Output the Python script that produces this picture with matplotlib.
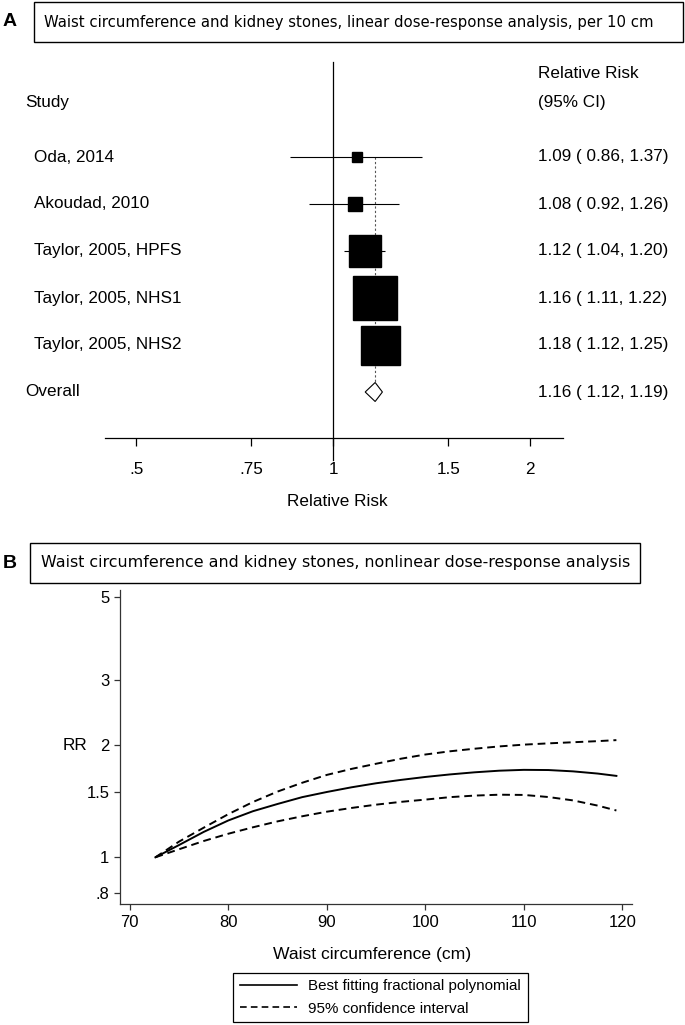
import numpy as np
import matplotlib
matplotlib.use('Agg')
import matplotlib.pyplot as plt
from matplotlib.patches import Rectangle, Polygon
from matplotlib.lines import Line2D
import matplotlib.transforms as mtransforms

plt.rcParams['font.family'] = ['Liberation Sans', 'DejaVu Sans']

# panel A data: linear dose-response per 10 cm
studies = ['Oda, 2014', 'Akoudad, 2010', 'Taylor, 2005, HPFS',
           'Taylor, 2005, NHS1', 'Taylor, 2005, NHS2']
rr = [1.09, 1.08, 1.12, 1.16, 1.18]
lo = [0.86, 0.92, 1.04, 1.11, 1.12]
hi = [1.37, 1.26, 1.20, 1.22, 1.25]
box_px = [10.5, 14, 32, 44, 39]   # square sizes (weights) in pixels
overall = (1.16, 1.12, 1.19)

# panel B data: nonlinear dose-response curve
waist = [72.6, 75, 77.5, 80, 82.5, 85, 87.5, 90, 92.5, 95, 97.5, 100,
         102.5, 105, 107.5, 110, 112.5, 115, 117.5, 119.4]
fit = [1.000, 1.079, 1.170, 1.256, 1.330, 1.391, 1.451, 1.498, 1.542, 1.581,
       1.614, 1.644, 1.670, 1.692, 1.709, 1.718, 1.716, 1.702, 1.679, 1.655]
ci_up = [1.000, 1.102, 1.201, 1.306, 1.408, 1.502, 1.586, 1.665, 1.728, 1.784,
         1.840, 1.889, 1.927, 1.958, 1.986, 2.008, 2.024, 2.038, 2.052, 2.065]
ci_lo = [1.000, 1.051, 1.106, 1.157, 1.204, 1.249, 1.289, 1.326, 1.357, 1.385,
         1.409, 1.429, 1.451, 1.465, 1.473, 1.471, 1.452, 1.422, 1.377, 1.336]

W, H = 685, 1025
fig = plt.figure(figsize=(W / 100, H / 100), dpi=100)


def fx(p):
    return p / W


def fy(p):
    return 1 - p / H


def box(x0, y0, x1, y1):
    fig.patches.append(Rectangle((fx(x0), fy(y1)), fx(x1) - fx(x0), fy(y0) - fy(y1),
                                 transform=fig.transFigure, fill=False,
                                 edgecolor='black', lw=1.0))


# ---------------- panel A ----------------
fig.text(fx(3), fy(21), 'A', fontsize=14, fontweight='bold', va='center')
box(34, 2, 683, 42)
fig.text(fx(44), fy(22), 'Waist circumference and kidney stones, linear dose-response analysis, per 10 cm',
         fontsize=10.75, family='DejaVu Sans', va='center')

axa = fig.add_axes([fx(105), fy(438), fx(563) - fx(105), fy(50) - fy(438)])
axa.set_xscale('log')
axa.set_xlim(np.exp((105 - 333) / 284), np.exp((563 - 333) / 284))
row_px = 47.0
axa.set_ylim((438 - 157) / row_px, (50 - 157) / row_px)
for s in ['top', 'left', 'right']:
    axa.spines[s].set_visible(False)
axa.spines['bottom'].set_linewidth(0.9)
axa.set_yticks([])
axa.minorticks_off()
axa.set_xticks([.5, .75, 1, 1.5, 2])
axa.set_xticklabels(['.5', '.75', '1', '1.5', '2'])
axa.tick_params(axis='x', which='both', length=5.8, width=0.9, pad=11.5, labelsize=12.3)
axa.xaxis.set_minor_locator(matplotlib.ticker.NullLocator())

rows = np.arange(len(studies))
axa.plot([1, 1], [(62 - 157) / row_px, (460 - 157) / row_px], color='black', lw=0.9, clip_on=False)
axa.plot([overall[0]] * 2, [0, len(studies)], color='#555555', lw=0.8, ls=(0, (2, 2)), zorder=1)
axa.hlines(rows, lo, hi, color='black', lw=0.8, zorder=2)
for r, v, b in zip(rows, rr, box_px):
    axa.plot(v, r, marker='s', ms=b * 0.72, color='black', mec='black', zorder=3)
yo = len(studies)
hd = 9.5 / row_px
axa.add_patch(Polygon([(overall[1], yo), (overall[0], yo - hd), (overall[2], yo), (overall[0], yo + hd)],
                      closed=True, facecolor='white', edgecolor='black', lw=0.8, zorder=4))

tr = mtransforms.blended_transform_factory(fig.transFigure, axa.transData)
fs = 12.3
axa.text(fx(538), (73 - 157) / row_px, 'Relative Risk', transform=tr, fontsize=fs, va='center')
axa.text(fx(538), (102 - 157) / row_px, '(95% CI)', transform=tr, fontsize=fs, va='center')
axa.text(fx(25), (102 - 157) / row_px, 'Study', transform=tr, fontsize=fs, va='center')
for r, name, v, l, h in zip(rows, studies, rr, lo, hi):
    axa.text(fx(34), r, name, transform=tr, fontsize=fs, va='center')
    axa.text(fx(538), r, '%.2f ( %.2f, %.2f)' % (v, l, h), transform=tr, fontsize=fs, va='center')
axa.text(fx(25), yo, 'Overall', transform=tr, fontsize=fs, va='center')
axa.text(fx(538), yo, '%.2f ( %.2f, %.2f)' % overall, transform=tr, fontsize=fs, va='center')
fig.text(fx(337), fy(502), 'Relative Risk', fontsize=fs, ha='center', va='center')

# ---------------- panel B ----------------
fig.text(fx(3), fy(564), 'B', fontsize=14, fontweight='bold', va='center')
box(30, 543, 640, 583)
fig.text(fx(41), fy(563), 'Waist circumference and kidney stones, nonlinear dose-response analysis',
         fontsize=11.4, family='DejaVu Sans', va='center')

axb = fig.add_axes([fx(120.3), fy(904), fx(632) - fx(120.3), fy(590) - fy(904)])
axb.set_yscale('log')
axb.set_xlim(70 + (120.3 - 129.8) / 9.85, 70 + (632 - 129.8) / 9.85)
axb.set_ylim(np.exp((857.3 - 904) / 161.6), np.exp((857.3 - 590) / 161.6))
axb.spines['top'].set_visible(False)
axb.spines['right'].set_visible(False)
for s in ['left', 'bottom']:
    axb.spines[s].set_linewidth(0.9)
    axb.spines[s].set_color('#333333')
axb.yaxis.set_minor_locator(matplotlib.ticker.NullLocator())
axb.set_yticks([.8, 1, 1.5, 2, 3, 5])
axb.set_yticklabels(['.8', '1', '1.5', '2', '3', '5'])
axb.set_xticks([70, 80, 90, 100, 110, 120])
axb.tick_params(axis='both', length=4.3, width=0.9, pad=3.5, labelsize=12, color='#333333')

axb.plot(waist, fit, color='black', lw=1.4, label='Best fitting fractional polynomial')
axb.plot(waist, ci_up, color='black', lw=1.4, ls=(0, (4, 2.5)), label='95% confidence interval')
axb.plot(waist, ci_lo, color='black', lw=1.4, ls=(0, (4, 2.5)))

fig.text(fx(75), fy(745), 'RR', fontsize=fs, ha='center', va='center')
fig.text(fx(372), fy(955), 'Waist circumference (cm)', fontsize=12.6, ha='center', va='center')

handles = [Line2D([], [], color='black', lw=1.2),
           Line2D([], [], color='black', lw=1.2, ls=(0, (4, 2.5)))]
leg = fig.legend(handles, ['Best fitting fractional polynomial', '95% confidence interval'],
                 loc='upper left', bbox_to_anchor=(fx(233), fy(972.5)), fontsize=10.9,
                 frameon=True, fancybox=False, edgecolor='black', framealpha=1,
                 handlelength=3.8, handletextpad=0.7, borderpad=0.45, labelspacing=0.55,
                 borderaxespad=0)
leg.get_frame().set_linewidth(0.9)

fig.savefig('out.png', dpi=100)
